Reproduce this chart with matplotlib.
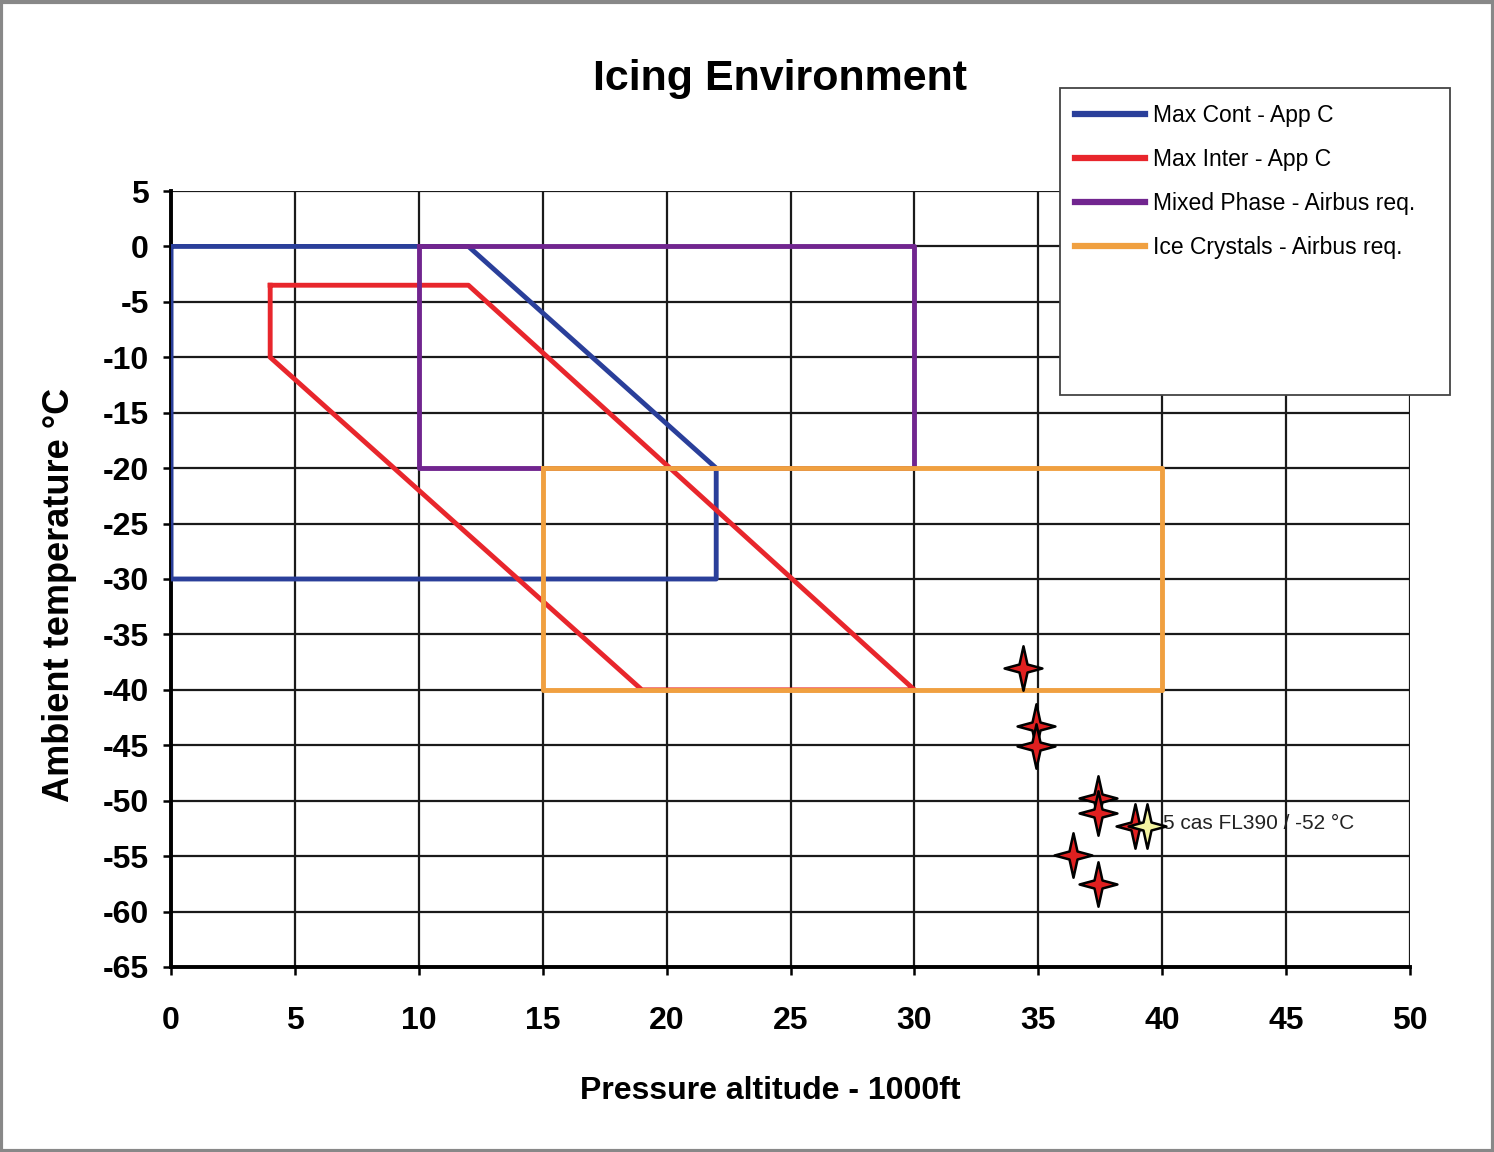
import matplotlib.pyplot as plt
from matplotlib.path import Path
from matplotlib.patches import Rectangle

plt.rcParams['font.family'] = ['Liberation Sans', 'DejaVu Sans']
plt.rcParams['axes.unicode_minus'] = False

# envelope outlines (altitude in 1000 ft, temperature in deg C)
cont_x = [0, 12, 22, 22, 0, 0]
cont_y = [0, 0, -20, -30, -30, 0]
inter_x = [4, 12, 30, 19, 4, 4]
inter_y = [-3.5, -3.5, -40, -40, -10, -3.5]
mixed_x = [10, 30, 30, 10, 10]
mixed_y = [0, 0, -20, -20, 0]
crystal_x = [15, 40, 40, 15, 15]
crystal_y = [-20, -20, -40, -40, -20]

# observed events
event_x = [34.4, 34.9, 34.9, 37.4, 37.4, 38.9, 36.4, 37.4]
event_y = [-38.0, -43.3, -45.1, -49.8, -51.1, -52.3, -54.9, -57.5]
marked_x = 39.4
marked_y = -52.3
marked_label = '5 cas FL390 / -52 °C'

x_ticks = list(range(0, 51, 5))
y_ticks = list(range(-65, 6, 5))

a = 0.18
star = Path([(0, 1), (a, a), (0.85, 0), (a, -a), (0, -1), (-a, -a), (-0.85, 0), (-a, a), (0, 1)],
            [Path.MOVETO] + [Path.LINETO] * 7 + [Path.CLOSEPOLY])

fig = plt.figure(figsize=(14.94, 11.52), dpi=100)
ax = fig.add_axes([0.1145, 0.1606, 0.8293, 0.6736])

ax.plot(cont_x, cont_y, color='#2a3f9a', lw=3.5, label='Max Cont - App C', zorder=3)
ax.plot(inter_x, inter_y, color='#e8262c', lw=3.5, label='Max Inter - App C', zorder=3)
ax.plot(mixed_x, mixed_y, color='#71258f', lw=3.5, label='Mixed Phase - Airbus req.', zorder=3)
ax.plot(crystal_x, crystal_y, color='#f0a040', lw=3.5, label='Ice Crystals - Airbus req.', zorder=3)

ax.plot(event_x, event_y, ls='none', marker=star, ms=32, mfc='#e02020', mec='black', mew=1.8, zorder=4)
ax.plot([marked_x], [marked_y], ls='none', marker=star, ms=32, mfc='#f4f4a0', mec='black', mew=1.8, zorder=4)
ax.annotate(marked_label, (marked_x, marked_y), xytext=(11, 2), textcoords='offset points',
            va='center', ha='left', fontsize=15, color='#222222')

ax.set_xlim(0, 50)
ax.set_ylim(-65, 5)
ax.set_xticks(x_ticks)
ax.set_yticks(y_ticks)
ax.tick_params(labelsize=23, length=6, width=1.8, color='black')
for lbl in ax.get_xticklabels() + ax.get_yticklabels():
    lbl.set_fontweight('bold')
ax.tick_params(axis='x', pad=22)
ax.tick_params(axis='y', pad=10)
ax.grid(True, color='#1a1a1a', lw=1.6)
ax.set_axisbelow(True)
for side in ['top', 'right']:
    ax.spines[side].set_visible(False)
for side in ['left', 'bottom']:
    ax.spines[side].set_linewidth(2.8)

ax.set_xlabel('Pressure altitude - 1000ft', fontsize=23, fontweight='bold')
ax.xaxis.set_label_coords(0.484, -0.1405)
ax.set_ylabel('Ambient temperature °C', fontsize=26, fontweight='bold')
ax.yaxis.set_label_coords(-0.076, 0.479)
fig.text(0.522, 0.931, 'Icing Environment', ha='center', va='center', fontsize=31, fontweight='bold')

# legend box
fig.patches.append(Rectangle((0.7095, 0.657), 0.261, 0.2666, transform=fig.transFigure,
                             facecolor='white', edgecolor='#444444', lw=1.3, zorder=5))
leg = fig.legend(loc='upper left', bbox_to_anchor=(0.7055, 0.928), frameon=False,
                 fontsize=16.5, handlelength=3.05, handletextpad=0.35, labelspacing=0.92)
for h in leg.get_lines():
    h.set_linewidth(4.5)
leg.set_zorder(6)

# outer border
fig.patches.append(Rectangle((0.001, 0.001), 0.998, 0.997, transform=fig.transFigure,
                             facecolor='none', edgecolor='#888888', lw=3))

fig.savefig('out.png', dpi=100)
